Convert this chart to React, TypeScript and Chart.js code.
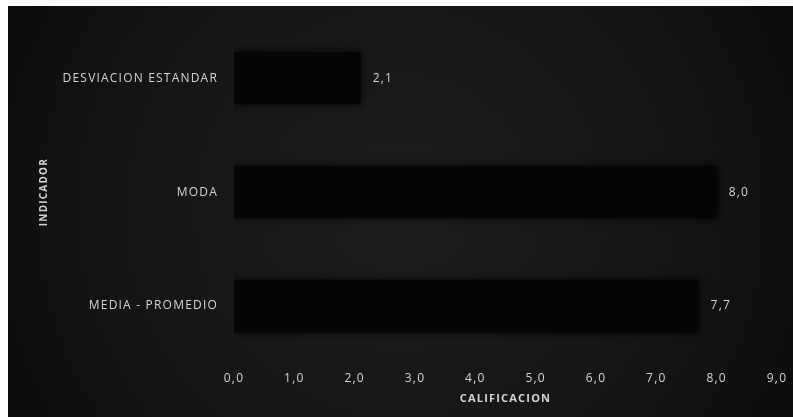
import React, { useEffect, useRef } from "react";
import { Chart, registerables } from "chart.js";

Chart.register(...registerables);

const categories = ["DESVIACION ESTANDAR", "MODA", "MEDIA - PROMEDIO"];
const values = [2.1, 8.0, 7.7];
const xTitle = "CALIFICACION";
const yTitle = "INDICADOR";
const xMin = 0;
const xMax = 9;

const fmt = (v: number) => v.toFixed(1).replace(".", ",");
const FONT = "'Open Sans', 'Liberation Sans', sans-serif";
const TEXT = "#d4d4d4";
const SPACING = "1.2px";

const setSpacing = (chart: any) => {
  try {
    chart.ctx.letterSpacing = SPACING;
  } catch (e) {}
};

const bgPlugin = {
  id: "bgPlugin",
  beforeLayout(chart: any) {
    setSpacing(chart);
  },
  beforeDraw(chart: any) {
    setSpacing(chart);
    const { ctx, width, height } = chart;
    ctx.save();
    const g = ctx.createRadialGradient(width * 0.5, height * 0.5, 10, width * 0.5, height * 0.5, width * 0.62);
    g.addColorStop(0, "#1d1d1d");
    g.addColorStop(0.6, "#141414");
    g.addColorStop(1, "#0a0a0a");
    ctx.fillStyle = g;
    ctx.fillRect(0, 0, width, height);
    ctx.restore();
  },
  beforeDatasetsDraw(chart: any) {
    const ctx = chart.ctx;
    ctx.save();
    ctx.shadowColor = "rgba(0,0,0,0.9)";
    ctx.shadowBlur = 8;
  },
  afterDatasetsDraw(chart: any) {
    const ctx = chart.ctx;
    ctx.restore();
    ctx.save();
    ctx.fillStyle = TEXT;
    ctx.font = `12px ${FONT}`;
    ctx.textAlign = "left";
    ctx.textBaseline = "middle";
    const meta = chart.getDatasetMeta(0);
    meta.data.forEach((bar: any, i: number) => {
      ctx.fillText(fmt(values[i]), bar.x + 12, bar.y);
    });
    ctx.restore();
  },
};

export default function App() {
  const ref = useRef<HTMLCanvasElement>(null);
  useEffect(() => {
    if (!ref.current) return;
    const chart = new Chart(ref.current, {
      type: "bar",
      data: {
        labels: categories,
        datasets: [
          {
            data: values,
            backgroundColor: "#050505",
            borderWidth: 0,
            barPercentage: 0.46,
            categoryPercentage: 1,
          },
        ],
      },
      options: {
        indexAxis: "y",
        animation: false,
        responsive: false,
        layout: { padding: { left: 26, top: 13, right: 16, bottom: 8 } },
        plugins: { legend: { display: false }, tooltip: { enabled: false } },
        scales: {
          x: {
            min: xMin,
            max: xMax,
            border: { display: false },
            grid: { display: false },
            ticks: {
              stepSize: 1,
              color: TEXT,
              font: { family: FONT, size: 12 },
              padding: 0,
              maxRotation: 0,
              callback: (v: any) => fmt(Number(v)),
            },
            title: {
              display: true,
              text: xTitle,
              color: TEXT,
              font: { family: FONT, size: 11, weight: "bold" },
              padding: { top: 2, bottom: 4 },
            },
            afterFit: (s: any) => {
              s.height = 46;
            },
          },
          y: {
            border: { display: false },
            grid: { display: false },
            ticks: {
              color: TEXT,
              font: { family: FONT, size: 12 },
              padding: 8,
            },
            title: {
              display: true,
              text: yTitle,
              color: TEXT,
              font: { family: FONT, size: 10, weight: "bold" },
              padding: { top: 4, bottom: 4 },
            },
            afterFit: (s: any) => {
              s.width = 200;
            },
          },
        },
      },
      plugins: [bgPlugin],
    });
    return () => chart.destroy();
  }, []);
  return (
    <div style={{ position: "absolute", left: 8, top: 6, width: 785, height: 411 }}>
      <canvas ref={ref} width={785} height={411} style={{ display: "block" }} />
    </div>
  );
}
